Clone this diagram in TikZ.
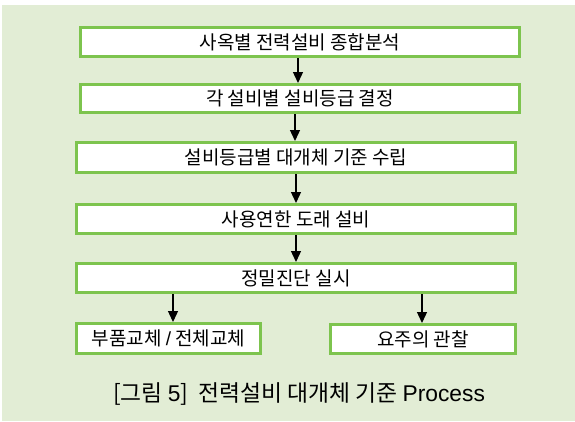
\documentclass[tikz,border=0pt]{standalone}
\usepackage{fontspec}
\setmainfont{Noto Sans CJK KR}
\newfontfamily\latinfont{Liberation Sans}
\usetikzlibrary{arrows.meta}
\definecolor{bggreen}{HTML}{E2EDD5}
\definecolor{boxgreen}{HTML}{7DC44E}
\begin{document}
\begin{tikzpicture}[x=1pt,y=-1pt,
  stepbox/.style={draw=boxgreen,line width=3pt,fill=white,inner sep=0pt,
    minimum height=29pt,font=\fontsize{19}{22}\selectfont},
  arr/.style={line width=1.3pt,-{Triangle[length=11pt,width=10pt]}}]
\useasboundingbox (0,0) rectangle (575,421);
\fill[bggreen] (2,5) rectangle (575,421);
\node[stepbox,minimum width=439pt] (b1) at (300,42) {사옥별 전력설비 종합분석};
\node[stepbox,minimum width=439pt,minimum height=28pt] (b2) at (300,98.5) {각 설비별 설비등급 결정};
\node[stepbox,minimum width=439pt,minimum height=30pt] (b3) at (296,157.5) {설비등급별 대개체 기준 수립};
\node[stepbox,minimum width=439pt] (b4) at (296,219) {사용연한 도래 설비};
\node[stepbox,minimum width=439pt] (b5) at (296,278) {정밀진단 실시};
\node[stepbox,minimum width=184pt,minimum height=30pt] (b6) at (168.5,338.5) {부품교체 {\latinfont /} 전체교체};
\node[stepbox,minimum width=185pt] (b7) at (423,339) {요주의 관찰};
\node[font=\fontsize{22.8}{26}\selectfont] (cap) at (299,394) {[그림 {\latinfont 5}]\ \ 전력설비 대개체 기준 {\latinfont Process}};
\draw[arr] ([xshift=-2pt]b1.south) -- ([xshift=-2pt]b2.north);
\draw[arr] ([xshift=-5pt]b2.south) -- ([xshift=-5pt]b2.south |- b3.north);
\draw[arr] (b3.south) -- (b4.north);
\draw[arr] (b4.south) -- (b5.north);
\draw[arr] (b5.south -| b6.north) ++(4.5,0) coordinate (s6) -- (s6 |- b6.north);
\draw[arr] (b5.south -| b7.north) ++(-1,0) coordinate (s7) -- (s7 |- b7.north);
\end{tikzpicture}
\end{document}
